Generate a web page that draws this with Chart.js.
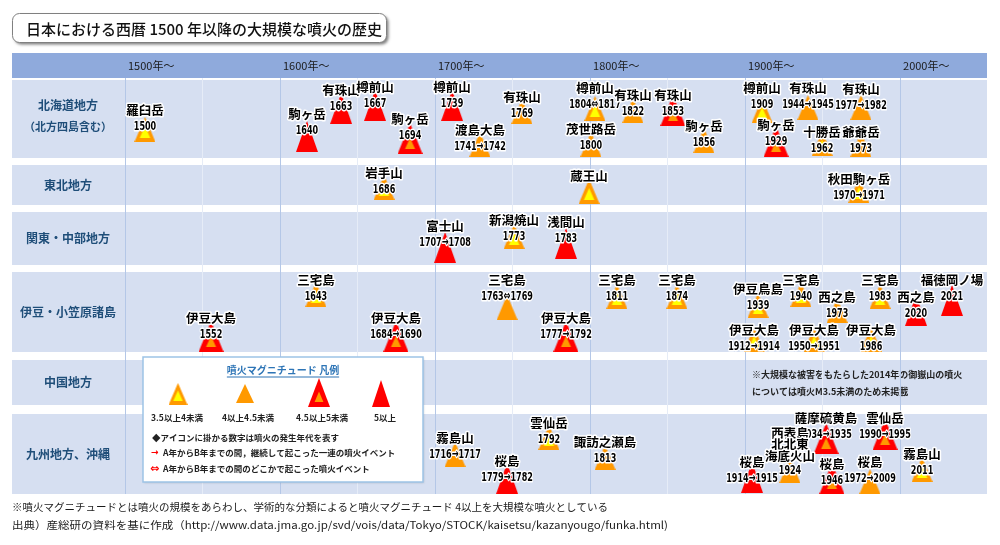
<!DOCTYPE html>
<html>
<head>
<meta charset="utf-8">
<script src="https://cdn.jsdelivr.net/npm/chart.js@4.4.0/dist/chart.umd.min.js"></script>
<style>
html, body { margin: 0; padding: 0; background: #fff; }
canvas { display: block; }
</style>
</head>
<body>
<canvas id="chart" width="1000" height="545"></canvas>
<script>
// rows of the board (y units of the layout scale)
var regionNames = [['北海道地方', '（北方四島含む）'], ['東北地方'], ['関東・中部地方'], ['伊豆・小笠原諸島'], ['中国地方'], ['九州地方、沖縄']];
var regionTop = [80, 165, 212, 272, 360, 414];
var regionBottom = [158, 205, 265, 352, 405, 494];

var eraTicks = [1500, 1600, 1700, 1800, 1900, 2000];
var eraLabels = ['1500年〜', '1600年〜', '1700年〜', '1800年〜', '1900年〜', '2000年〜'];
var magLabels = ['3.5以上4未満', '4以上4.5未満', '4.5以上5未満', '5以上'];

// volcanoes
var names = ['羅臼岳', '駒ヶ岳', '有珠山', '樽前山', '駒ヶ岳', '樽前山', '渡島大島', '有珠山', '樽前山', '茂世路岳',
    '有珠山', '有珠山', '駒ヶ岳', '樽前山', '有珠山', '有珠山', '駒ヶ岳', '十勝岳', '爺爺岳',
    '岩手山', '蔵王山', '秋田駒ヶ岳',
    '富士山', '新潟焼山', '浅間山',
    '伊豆大島', '三宅島', '伊豆大島', '三宅島', '伊豆大島', '三宅島', '三宅島', '伊豆鳥島', '三宅島', '西之島',
    '三宅島', '西之島', '福徳岡ノ場', '伊豆大島', '伊豆大島', '伊豆大島',
    '霧島山', '桜島', '雲仙岳', '諏訪之瀬島', '桜島', '西表島\n北北東\n海底火山', '薩摩硫黄島', '雲仙岳', '桜島', '桜島', '霧島山'];
var yearText = ['1500', '1640', '1663', '1667', '1694', '1739', '1741→1742', '1769', '1804⇔1817', '1800',
    '1822', '1853', '1856', '1909', '1944→1945', '1977→1982', '1929', '1962', '1973',
    '1686', '', '1970→1971',
    '1707→1708', '1773', '1783',
    '1552', '1643', '1684→1690', '1763⇔1769', '1777→1792', '1811', '1874', '1939', '1940', '1973',
    '1983', '2020', '2021', '1912→1914', '1950→1951', '1986',
    '1716→1717', '1779→1782', '1792', '1813', '1914→1915', '1924', '1934→1935', '1990→1995', '1946', '1972→2009', '2011'];
// place on the timeline as drawn in the picture (year units)
var xPos = [1512.9, 1617.4, 1639.4, 1661.3, 1683.9, 1711.0, 1729.0, 1756.1, 1803.2, 1800.6,
    1827.7, 1853.5, 1873.5, 1911.0, 1940.6, 1974.8, 1920.0, 1949.7, 1974.8,
    1667.1, 1799.4, 1973.5,
    1706.5, 1751.0, 1784.5,
    1555.5, 1623.2, 1674.8, 1746.5, 1784.5, 1817.4, 1856.1, 1908.4, 1936.1, 1959.4,
    1987.1, 2010.3, 2033.5, 1905.8, 1944.5, 1981.3,
    1712.9, 1746.5, 1773.5, 1809.7, 1904.5, 1929.0, 1952.3, 1990.3, 1956.1, 1980.6, 2014.2];
var yBase = [142, 152, 124, 121, 154, 121, 157, 124, 121, 157,
    123, 126, 153, 123, 120, 120, 157, 156, 157,
    200, 204, 203,
    263, 249, 259,
    352, 307, 352, 320, 352, 309, 309, 318, 307, 323,
    309, 326, 316, 352, 352, 352,
    467, 494, 450, 470, 493, 483, 454, 450, 494, 494, 482];
var nameY = [110, 114, 90, 87, 119, 87, 130, 97, 88, 129,
    95, 95, 126, 88, 88, 89, 125, 132, 132,
    173, 176, 179,
    226, 220, 222,
    318, 280, 318, 280, 318, 280, 280, 289, 280, 297,
    280, 297, 280, 330, 330, 330,
    438, 461, 423, 442, 462, 433, 418, 418, 464, 462, 454];
// magnitude class 1: 3.5-4, 2: 4-4.5, 3: 4.5-5, 4: 5+
var mag = [1, 4, 4, 4, 3, 4, 2, 2, 1, 2,
    2, 3, 2, 1, 2, 2, 3, 1, 2,
    1, 1, 1,
    4, 1, 4,
    3, 1, 3, 2, 3, 1, 1, 1, 1, 2,
    1, 4, 4, 1, 1, 1,
    2, 4, 1, 2, 4, 2, 3, 3, 3, 2, 1];

var ORANGE = '#ff9900', YELLOW = '#ffff00', RED = '#ff0000';
var JP = '"Noto Sans CJK JP", "Noto Sans", sans-serif';

function tri(g, cx, by, w, h, col) {
    g.beginPath();
    g.moveTo(cx - w / 2, by);
    g.lineTo(cx + w / 2, by);
    g.lineTo(cx, by - h);
    g.closePath();
    g.fillStyle = col;
    g.fill();
}
// image twice as tall as the triangle so its base sits on the point
function makeTri(k, w, h) {
    var c = document.createElement('canvas');
    c.width = w;
    c.height = h * 2;
    var g = c.getContext('2d');
    tri(g, w / 2, h, w, h, k <= 2 ? ORANGE : RED);
    if (k == 1) tri(g, w / 2, h - 4, w * 0.5, h * 0.48, YELLOW);
    if (k == 3) tri(g, w / 2, h - 5, w * 0.4, h * 0.36, ORANGE);
    return c;
}
var triSize = [null, [21, 25], [21, 25], [25, 31], [22, 31]];
var legendSize = [null, [19, 22], [18, 19], [22, 29], [18, 27]];
var triImg = [null], legendImg = [null];
for (var k = 1; k <= 4; k++) {
    triImg.push(makeTri(k, triSize[k][0], triSize[k][1]));
    legendImg.push(makeTri(k, legendSize[k][0], legendSize[k][1]));
}

var datasets = [];
for (var k = 1; k <= 4; k++) {
    var pts = [];
    for (var i = 0; i < names.length; i++) {
        if (mag[i] == k) pts.push({x: xPos[i], y: yBase[i], idx: i});
    }
    datasets.push({
        label: magLabels[k - 1],
        data: pts,
        pointStyle: triImg[k],
        pointRadius: 10,
        showLine: false,
        clip: false
    });
}

function halo(ctx, text, x, y) {
    ctx.lineJoin = 'round';
    ctx.lineWidth = 3;
    ctx.strokeStyle = '#fff';
    ctx.strokeText(text, x, y);
    ctx.fillStyle = '#000';
    ctx.fillText(text, x, y);
}

// left aligned text stretched to the width it has in the picture
function fitText(ctx, text, x, y, width) {
    var w = ctx.measureText(text).width;
    ctx.save();
    ctx.translate(x, y);
    ctx.scale(width / w, 1);
    ctx.fillText(text, 0, 0);
    ctx.restore();
}

var board = {
    id: 'board',
    beforeDraw: function (chart) {
        var ctx = chart.ctx, area = chart.chartArea;
        var ys = chart.scales.y, xs = chart.scales.x;
        ctx.save();
        ctx.fillStyle = '#fff';
        ctx.fillRect(0, 0, chart.width, chart.height);

        // title box
        ctx.save();
        ctx.shadowColor = 'rgba(0,0,0,0.5)';
        ctx.shadowOffsetX = 2;
        ctx.shadowOffsetY = 2;
        ctx.shadowBlur = 3;
        ctx.beginPath();
        ctx.roundRect(12.5, 13.5, 374, 29, 7);
        ctx.fillStyle = '#fff';
        ctx.fill();
        ctx.restore();
        ctx.beginPath();
        ctx.roundRect(12.5, 13.5, 374, 29, 7);
        ctx.strokeStyle = '#808080';
        ctx.lineWidth = 1;
        ctx.stroke();
        ctx.fillStyle = '#111';
        ctx.font = '500 15px ' + JP;
        ctx.textBaseline = 'middle';
        ctx.textAlign = 'left';
        ctx.fillText('日本における西暦 1500 年以降の大規模な噴火の歴史', 26, 29);

        // era band
        ctx.fillStyle = '#8faadc';
        ctx.fillRect(12, 53, area.right - 12, area.top - 53);
        ctx.fillStyle = '#1a1a1a';
        ctx.font = '11px ' + JP;
        for (var i = 0; i < eraTicks.length; i++) {
            ctx.fillText(eraLabels[i], xs.getPixelForValue(eraTicks[i]) + 3, 66);
        }

        // region rows
        for (var r = 0; r < regionNames.length; r++) {
            var t = ys.getPixelForValue(regionTop[r]), b = ys.getPixelForValue(regionBottom[r]);
            ctx.fillStyle = '#d6dff1';
            ctx.fillRect(12, t, area.right - 12, b - t);
            ctx.fillStyle = '#1f4e79';
            ctx.textAlign = 'center';
            var lines = regionNames[r];
            var mid = (t + b) / 2;
            if (lines.length == 1) {
                ctx.font = 'bold 12px ' + JP;
                ctx.fillText(lines[0], 68, mid);
            } else {
                ctx.font = 'bold 12px ' + JP;
                ctx.fillText(lines[0], 68, mid - 14);
                ctx.font = 'bold 11px ' + JP;
                ctx.fillText(lines[1], 68, mid + 8);
            }
        }

        // note in the Chugoku row
        ctx.textAlign = 'left';
        ctx.fillStyle = '#222';
        ctx.font = 'bold 9px ' + JP;
        ctx.fillText('※大規模な被害をもたらした2014年の御嶽山の噴火', 752, 375);
        ctx.fillText('については噴火M3.5未満のため未掲載', 752, 392);
        ctx.restore();
    },
    afterDatasetsDraw: function (chart) {
        var ctx = chart.ctx, xs = chart.scales.x, ys = chart.scales.y;
        ctx.save();
        ctx.textAlign = 'center';
        ctx.textBaseline = 'middle';
        var order = [];
        for (var i = 0; i < names.length; i++) if (names[i].indexOf('\n') < 0) order.push(i);
        for (var i = 0; i < names.length; i++) if (names[i].indexOf('\n') >= 0) order.push(i);
        order.forEach(function (i) {
            var px = xs.getPixelForValue(xPos[i]);
            var ny = ys.getPixelForValue(nameY[i]);
            var lines = names[i].split('\n');
            ctx.font = 'bold 12.5px ' + JP;
            for (var j = 0; j < lines.length; j++) {
                halo(ctx, lines[j], px, ny + j * 11.5);
            }
            if (yearText[i]) {
                var yy = ny + (lines.length - 1) * 11.5 + (lines.length > 1 ? 15 : 17);
                ctx.save();
                ctx.translate(px, yy);
                ctx.scale(0.62, 1);
                ctx.font = 'bold 13px "DejaVu Sans", sans-serif';
                halo(ctx, yearText[i], 0, 0);
                ctx.restore();
            }
        });
        ctx.restore();
    },
    afterDraw: function (chart) {
        var ctx = chart.ctx;
        ctx.save();
        // legend box
        ctx.save();
        ctx.shadowColor = 'rgba(0,0,0,0.15)';
        ctx.shadowOffsetX = 1;
        ctx.shadowOffsetY = 1;
        ctx.shadowBlur = 2;
        ctx.fillStyle = '#fff';
        ctx.fillRect(143, 357, 280, 125);
        ctx.restore();
        ctx.strokeStyle = '#9dc3e6';
        ctx.lineWidth = 1.5;
        ctx.strokeRect(143, 357, 280, 125);

        ctx.textBaseline = 'middle';
        ctx.textAlign = 'center';
        ctx.fillStyle = '#2e75b6';
        ctx.font = 'bold 10px ' + JP;
        var title = '噴火マグニチュード 凡例';
        ctx.fillText(title, 283, 370);
        var tw = ctx.measureText(title).width;
        ctx.fillRect(283 - tw / 2, 376.5, tw, 1);

        var lx = [178, 245, 319, 381], lb = [405, 403, 407, 407], tx = [177, 248, 322, 385];
        ctx.fillStyle = '#222';
        ctx.font = 'bold 8.5px ' + JP;
        for (var k = 1; k <= 4; k++) {
            var im = legendImg[k];
            ctx.drawImage(im, lx[k - 1] - im.width / 2, lb[k - 1] - im.height / 2);
            ctx.fillText(magLabels[k - 1], tx[k - 1], 418);
        }
        ctx.textAlign = 'left';
        ctx.fillText('◆アイコンに掛かる数字は噴火の発生年代を表す', 152, 438);
        ctx.fillText('A年からB年までの間，継続して起こった一連の噴火イベント', 163, 453);
        ctx.fillText('A年からB年までの間のどこかで起こった噴火イベント', 163, 469);
        ctx.fillStyle = RED;
        ctx.font = 'bold 9px "DejaVu Sans", sans-serif';
        ctx.fillText('→', 151, 453);
        ctx.font = 'bold 11px "DejaVu Sans", sans-serif';
        ctx.fillText('⇔', 150, 469);

        // footer
        ctx.fillStyle = '#1a1a1a';
        ctx.font = '10.5px ' + JP;
        fitText(ctx, '※噴火マグニチュードとは噴火の規模をあらわし、学術的な分類によると噴火マグニチュード 4以上を大規模な噴火としている', 12, 507, 596);
        fitText(ctx, '出典）産総研の資料を基に作成（http://www.data.jma.go.jp/svd/vois/data/Tokyo/STOCK/kaisetsu/kazanyougo/funka.html)', 12, 525, 656);
        ctx.restore();
    }
};

var ctx = document.getElementById('chart').getContext('2d');
var chart = new Chart(ctx, {
    type: 'scatter',
    data: {datasets: datasets},
    options: {
        responsive: false,
        animation: false,
        devicePixelRatio: 1,
        events: [],
        layout: {padding: {left: 125, right: 13, top: 78, bottom: 51}},
        plugins: {legend: {display: false}, tooltip: {enabled: false}, title: {display: false}},
        scales: {
            x: {
                type: 'linear',
                min: 1500,
                max: 2056.1,
                border: {display: false},
                ticks: {display: false, stepSize: 50},
                grid: {
                    drawTicks: false,
                    lineWidth: 1,
                    color: function (c) {
                        var v = c.tick ? c.tick.value : 0;
                        if (v % 100 === 0) return '#b4c7e7';
                        if (v % 50 === 0) return '#e6ecf7';
                        return 'rgba(0,0,0,0)';
                    }
                }
            },
            y: {
                type: 'linear',
                display: false,
                reverse: true,
                min: 78,
                max: 494
            }
        }
    },
    plugins: [board]
});
</script>
</body>
</html>
